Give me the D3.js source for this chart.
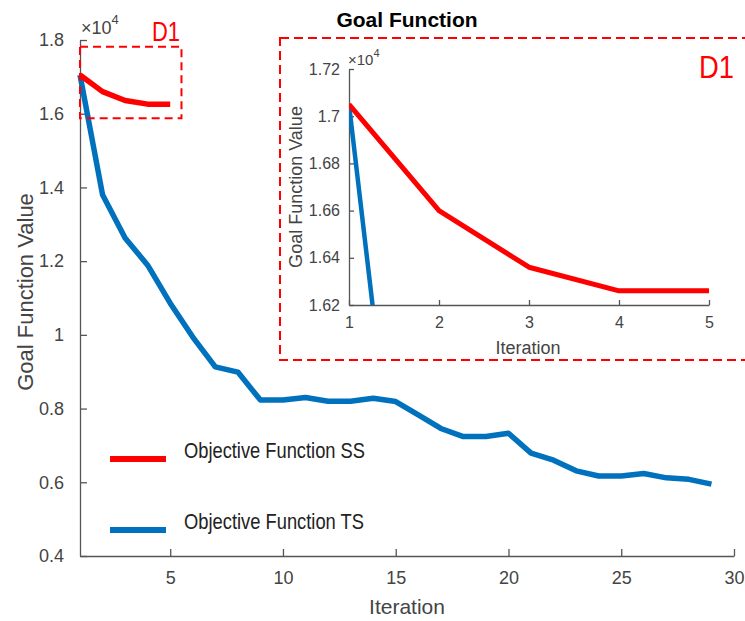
<!DOCTYPE html>
<html>
<head>
<meta charset="utf-8">
<script src="https://cdn.jsdelivr.net/npm/d3@7"></script>
<style>
  body { margin: 0; background: #fff; }
  svg { display: block; font-family: "Liberation Sans", Arial, sans-serif; }
  .axis path, .axis line { stroke: #555; stroke-width: 1.3; }
  .axis text { fill: #444; }
</style>
</head>
<body>
<svg id="chart"></svg>
<script>
const width = 745;
const height = 621;

// values in units of 10^4
const tsValues = [1.705, 1.38, 1.263, 1.189, 1.086, 0.994, 0.913, 0.899, 0.823, 0.823,
  0.83, 0.82, 0.82, 0.828, 0.819, 0.783, 0.746, 0.724, 0.724, 0.733,
  0.679, 0.660, 0.631, 0.617, 0.617, 0.624, 0.612, 0.608, 0.595];
const ssValues = [1.705, 1.660, 1.636, 1.626, 1.626];

const mainXTicks = [5, 10, 15, 20, 25, 30];
const mainYTicks = [0.4, 0.6, 0.8, 1, 1.2, 1.4, 1.6, 1.8];
const insetXTicks = [1, 2, 3, 4, 5];
const insetYTicks = [1.62, 1.64, 1.66, 1.68, 1.7, 1.72];
const legendLabels = ["Objective Function SS", "Objective Function TS"];
const zoomBox = { x: [1, 5.5], y: [1.5875, 1.782] };

const RED = "#ff0000";
const BLUE = "#0072bd";

const svg = d3.select("#chart")
  .attr("width", width)
  .attr("height", height);

svg.append("rect").attr("width", width).attr("height", height).attr("fill", "#fff");

const fmt = d => String(+d.toFixed(2));

// --- MAIN AXES ---
const x = d3.scaleLinear().domain([1, 30]).range([80, 734]);
const y = d3.scaleLinear().domain([0.4, 1.8]).range([556, 40]);

const line = d3.line().x((d, i) => x(i + 1)).y(d => y(d));

svg.append("g").attr("class", "axis")
  .attr("transform", `translate(0,${y.range()[0]})`)
  .call(d3.axisBottom(x).tickValues(mainXTicks).tickFormat(fmt).tickSizeInner(-7).tickSizeOuter(0).tickPadding(15))
  .call(g => g.selectAll("text").style("font-size", "18px"));

svg.append("g").attr("class", "axis")
  .attr("transform", `translate(${x.range()[0]},0)`)
  .call(d3.axisLeft(y).tickValues(mainYTicks).tickFormat(fmt).tickSizeInner(-7).tickSizeOuter(0).tickPadding(16))
  .call(g => g.selectAll("text").style("font-size", "18px"));

svg.append("text")
  .attr("x", 407).attr("y", 614)
  .attr("text-anchor", "middle")
  .attr("fill", "#444").style("font-size", "21px")
  .text("Iteration");

svg.append("text")
  .attr("transform", "translate(33,292) rotate(-90)")
  .attr("text-anchor", "middle")
  .attr("fill", "#444").style("font-size", "22px")
  .text("Goal Function Value");

const mainExp = svg.append("text").attr("x", 81).attr("y", 34).attr("fill", "#444").style("font-size", "18px");
mainExp.append("tspan").text("×10");
mainExp.append("tspan").attr("dy", -10).style("font-size", "13px").text("4");

svg.append("path")
  .datum(tsValues)
  .attr("d", line)
  .attr("fill", "none")
  .attr("stroke", BLUE)
  .attr("stroke-width", 5.5)
  .attr("stroke-linejoin", "round");

svg.append("path")
  .datum(ssValues)
  .attr("d", line)
  .attr("fill", "none")
  .attr("stroke", RED)
  .attr("stroke-width", 5.5)
  .attr("stroke-linejoin", "round");

// zoom region marker
svg.append("rect")
  .attr("x", x(zoomBox.x[0])).attr("y", y(zoomBox.y[1]))
  .attr("width", x(zoomBox.x[1]) - x(zoomBox.x[0]))
  .attr("height", y(zoomBox.y[0]) - y(zoomBox.y[1]))
  .attr("fill", "none").attr("stroke", RED).attr("stroke-width", 2)
  .attr("stroke-dasharray", "8,5");

svg.append("text")
  .attr("x", 152).attr("y", 41)
  .attr("fill", RED)
  .style("font-family", "'Liberation Sans Narrow', 'Arial Narrow', sans-serif")
  .style("font-size", "28px")
  .attr("textLength", 28).attr("lengthAdjust", "spacingAndGlyphs")
  .text("D1");

// --- LEGEND ---
const legend = svg.append("g");
[RED, BLUE].forEach((c, i) => {
  const ly = [459, 530][i];
  legend.append("line")
    .attr("x1", 110).attr("x2", 166).attr("y1", ly).attr("y2", ly)
    .attr("stroke", c).attr("stroke-width", 6);
  legend.append("text")
    .attr("x", 184).attr("y", ly - 1)
    .attr("fill", "#222")
    .style("font-family", "'Liberation Sans Narrow', 'Arial Narrow', sans-serif")
    .style("font-size", "22px")
    .attr("textLength", i === 0 ? 181 : 180).attr("lengthAdjust", "spacingAndGlyphs")
    .text(legendLabels[i]);
});

// --- INSET ---
svg.append("rect")
  .attr("x", 280).attr("y", 38)
  .attr("width", 480).attr("height", 322)
  .attr("fill", "#fff").attr("stroke", RED).attr("stroke-width", 2)
  .attr("stroke-dasharray", "9,5");

svg.append("text")
  .attr("x", 407).attr("y", 27)
  .attr("text-anchor", "middle")
  .attr("fill", "#000")
  .style("font-weight", "bold").style("font-size", "21px")
  .text("Goal Function");

svg.append("text")
  .attr("x", 734).attr("y", 78)
  .attr("text-anchor", "end")
  .attr("fill", RED)
  .style("font-family", "'Liberation Sans Narrow', 'Arial Narrow', sans-serif")
  .style("font-size", "31px")
  .attr("textLength", 35).attr("lengthAdjust", "spacingAndGlyphs")
  .text("D1");

const xi = d3.scaleLinear().domain([1, 5]).range([349, 709]);
const yi = d3.scaleLinear().domain([1.62, 1.72]).range([305, 69]);
const lineInset = d3.line().x((d, i) => xi(i + 1)).y(d => yi(d));

svg.append("clipPath").attr("id", "insetClip")
  .append("rect")
  .attr("x", xi.range()[0]).attr("y", yi.range()[1])
  .attr("width", xi.range()[1] - xi.range()[0])
  .attr("height", yi.range()[0] - yi.range()[1]);

svg.append("g").attr("class", "axis")
  .attr("transform", `translate(0,${yi.range()[0]})`)
  .call(d3.axisBottom(xi).tickValues(insetXTicks).tickFormat(fmt).tickSizeInner(-5).tickSizeOuter(0).tickPadding(12))
  .call(g => g.selectAll("text").style("font-size", "16px"));

svg.append("g").attr("class", "axis")
  .attr("transform", `translate(${xi.range()[0]},0)`)
  .call(d3.axisLeft(yi).tickValues(insetYTicks).tickFormat(fmt).tickSizeInner(-5).tickSizeOuter(0).tickPadding(9))
  .call(g => g.selectAll("text").style("font-size", "16px"));

svg.append("text")
  .attr("x", 528).attr("y", 354)
  .attr("text-anchor", "middle")
  .attr("fill", "#444").style("font-size", "18px")
  .text("Iteration");

svg.append("text")
  .attr("transform", "translate(302,187) rotate(-90)")
  .attr("text-anchor", "middle")
  .attr("fill", "#444").style("font-size", "18px")
  .text("Goal Function Value");

const insetExp = svg.append("text").attr("x", 348).attr("y", 65).attr("fill", "#444").style("font-size", "15px");
insetExp.append("tspan").text("×10");
insetExp.append("tspan").attr("dy", -8).style("font-size", "11px").text("4");

const insetLines = svg.append("g").attr("clip-path", "url(#insetClip)");
insetLines.append("path")
  .datum(tsValues)
  .attr("d", lineInset)
  .attr("fill", "none")
  .attr("stroke", BLUE)
  .attr("stroke-width", 4.5);

insetLines.append("path")
  .datum(ssValues)
  .attr("d", lineInset)
  .attr("fill", "none")
  .attr("stroke", RED)
  .attr("stroke-width", 5)
  .attr("stroke-linejoin", "round");
</script>
</body>
</html>
